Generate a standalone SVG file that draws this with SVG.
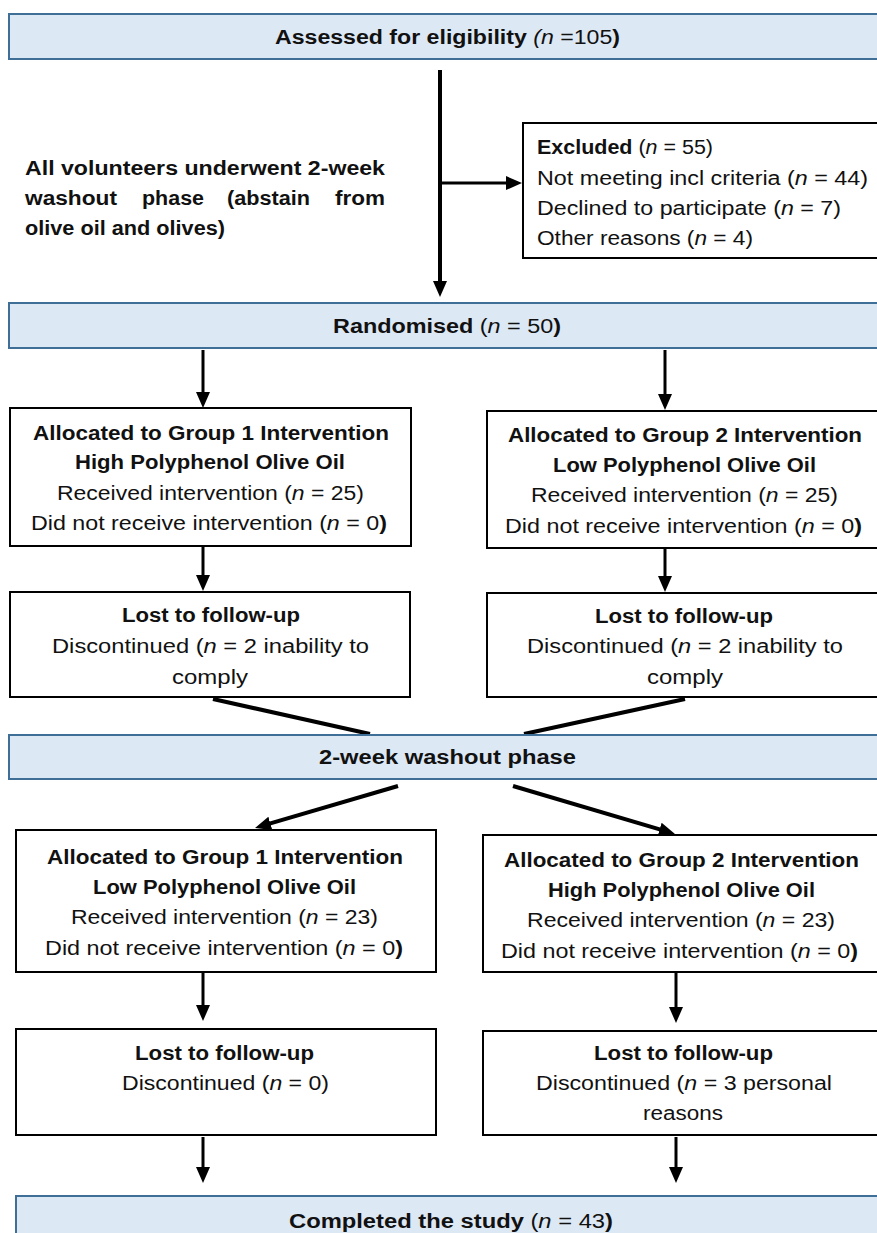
<svg xmlns="http://www.w3.org/2000/svg" width="877" height="1233" viewBox="0 0 877 1233">
<defs>
<marker id="ah" markerUnits="userSpaceOnUse" markerWidth="16" markerHeight="14" refX="8" refY="7" orient="auto">
<path d="M0,0 L16,7 L0,14 z" fill="#000"/>
</marker>
<style>
.bl{fill:#dde8f5;stroke:#3f6f96;stroke-width:2}
.wb{fill:#fff;stroke:#000;stroke-width:2}
text{font-family:"Liberation Sans Narrow","Liberation Sans",Arial,sans-serif;font-size:20px;fill:#111}
.b{font-weight:bold}
.c{text-anchor:middle}
.i{font-style:italic}
.ln{stroke:#000;stroke-width:3;fill:none}
.lt{stroke:#000;stroke-width:4;fill:none}
</style>
</defs>
<g id="connectors">
<line class="lt" x1="440" y1="70" x2="440" y2="289" marker-end="url(#ah)"/>
<line class="ln" x1="440" y1="183" x2="514" y2="183" marker-end="url(#ah)"/>
<line class="ln" x1="203" y1="350" x2="203" y2="400" marker-end="url(#ah)"/>
<line class="ln" x1="665" y1="350" x2="665" y2="402" marker-end="url(#ah)"/>
<line class="ln" x1="203" y1="546" x2="203" y2="583" marker-end="url(#ah)"/>
<line class="ln" x1="665" y1="548" x2="665" y2="584" marker-end="url(#ah)"/>
<line class="lt" x1="213" y1="699" x2="370" y2="734"/>
<line class="lt" x1="685" y1="699" x2="524" y2="734"/>
<line class="lt" x1="398" y1="786" x2="262.7" y2="825.7" marker-end="url(#ah)"/>
<line class="lt" x1="513" y1="786" x2="667.3" y2="831.7" marker-end="url(#ah)"/>
<line class="ln" x1="203" y1="972" x2="203" y2="1013" marker-end="url(#ah)"/>
<line class="ln" x1="676" y1="972" x2="676" y2="1015" marker-end="url(#ah)"/>
<line class="ln" x1="203" y1="1137" x2="203" y2="1175" marker-end="url(#ah)"/>
<line class="ln" x1="676" y1="1137" x2="676" y2="1175" marker-end="url(#ah)"/>
</g>
<g id="assessed">
<rect class="bl" x="9" y="14" width="880" height="45"/>
<text class="b" x="275" y="44" textLength="345" lengthAdjust="spacingAndGlyphs">Assessed for eligibility <tspan class="i" font-weight="normal">(n</tspan><tspan font-weight="normal"> =105</tspan>)</text>
</g>
<g id="washout-note">
<text class="b" x="25" y="175" textLength="360" lengthAdjust="spacingAndGlyphs">All volunteers underwent 2-week</text>
<text class="b" x="25" y="205" textLength="92" lengthAdjust="spacingAndGlyphs">washout</text>
<text class="b" x="142" y="205" textLength="62" lengthAdjust="spacingAndGlyphs">phase</text>
<text class="b" x="227" y="205" textLength="83" lengthAdjust="spacingAndGlyphs">(abstain</text>
<text class="b" x="335" y="205" textLength="50" lengthAdjust="spacingAndGlyphs">from</text>
<text class="b" x="25" y="235" textLength="200" lengthAdjust="spacingAndGlyphs">olive oil and olives)</text>
</g>
<g id="excluded">
<rect class="wb" x="523" y="123" width="370" height="135"/>
<text x="537" y="154" textLength="176" lengthAdjust="spacingAndGlyphs"><tspan class="b">Excluded</tspan> (<tspan class="i">n</tspan> = 55)</text>
<text x="537" y="185" textLength="331" lengthAdjust="spacingAndGlyphs">Not meeting incl criteria (<tspan class="i">n</tspan> = 44)</text>
<text x="537" y="215" textLength="304" lengthAdjust="spacingAndGlyphs">Declined to participate (<tspan class="i">n</tspan> = 7)</text>
<text x="537" y="245" textLength="216" lengthAdjust="spacingAndGlyphs">Other reasons (<tspan class="i">n</tspan> = 4)</text>
</g>
<g id="randomised">
<rect class="bl" x="9" y="303" width="880" height="45"/>
<text class="b" x="333" y="333" textLength="228" lengthAdjust="spacingAndGlyphs">Randomised  <tspan font-weight="normal">(</tspan><tspan class="i" font-weight="normal">n</tspan><tspan font-weight="normal"> = 50</tspan>)</text>
</g>
<g id="group1-p1">
<rect class="wb" x="10" y="408" width="401" height="138"/>
<text class="b" x="33" y="440" textLength="356" lengthAdjust="spacingAndGlyphs">Allocated to Group 1 Intervention</text>
<text class="b" x="75" y="469" textLength="270" lengthAdjust="spacingAndGlyphs">High Polyphenol Olive Oil</text>
<text x="57" y="500" textLength="307" lengthAdjust="spacingAndGlyphs">Received intervention (<tspan class="i">n</tspan> = 25)</text>
<text x="31" y="530" textLength="356" lengthAdjust="spacingAndGlyphs">Did not receive intervention (<tspan class="i">n</tspan> = 0<tspan class="b">)</tspan></text>
</g>
<g id="group2-p1">
<rect class="wb" x="487" y="411" width="400" height="137"/>
<text class="b" x="508" y="442" textLength="354" lengthAdjust="spacingAndGlyphs">Allocated to Group 2 Intervention</text>
<text class="b" x="553" y="472" textLength="263" lengthAdjust="spacingAndGlyphs">Low Polyphenol Olive Oil</text>
<text x="531" y="502" textLength="307" lengthAdjust="spacingAndGlyphs">Received intervention (<tspan class="i">n</tspan> = 25)</text>
<text x="505" y="533" textLength="357" lengthAdjust="spacingAndGlyphs">Did not receive intervention (<tspan class="i">n</tspan> = 0<tspan class="b">)</tspan></text>
</g>
<g id="lost1-p1">
<rect class="wb" x="10" y="592" width="400" height="105"/>
<text class="b" x="122" y="622" textLength="178" lengthAdjust="spacingAndGlyphs">Lost to follow-up</text>
<text x="52" y="653" textLength="317" lengthAdjust="spacingAndGlyphs">Discontinued (<tspan class="i">n</tspan> = 2 inability to</text>
<text x="172" y="684" textLength="76" lengthAdjust="spacingAndGlyphs">comply</text>
</g>
<g id="lost2-p1">
<rect class="wb" x="487" y="593" width="400" height="104"/>
<text class="b" x="595" y="623" textLength="178" lengthAdjust="spacingAndGlyphs">Lost to follow-up</text>
<text x="527" y="653" textLength="316" lengthAdjust="spacingAndGlyphs">Discontinued (<tspan class="i">n</tspan> = 2 inability to</text>
<text x="647" y="684" textLength="76" lengthAdjust="spacingAndGlyphs">comply</text>
</g>
<g id="washout">
<rect class="bl" x="9" y="735" width="880" height="44"/>
<text class="b" x="319" y="764" textLength="257" lengthAdjust="spacingAndGlyphs">2-week washout  phase</text>
</g>
<g id="group1-p2">
<rect class="wb" x="16" y="830" width="420" height="142"/>
<text class="b" x="47" y="864" textLength="356" lengthAdjust="spacingAndGlyphs">Allocated to Group 1 Intervention</text>
<text class="b" x="93" y="894" textLength="263" lengthAdjust="spacingAndGlyphs">Low Polyphenol Olive Oil</text>
<text x="71" y="924" textLength="307" lengthAdjust="spacingAndGlyphs">Received intervention (<tspan class="i">n</tspan> = 23)</text>
<text x="45" y="955" textLength="358" lengthAdjust="spacingAndGlyphs">Did not receive intervention (<tspan class="i">n</tspan> = 0<tspan class="b">)</tspan></text>
</g>
<g id="group2-p2">
<rect class="wb" x="483" y="835" width="400" height="137"/>
<text class="b" x="504" y="867" textLength="355" lengthAdjust="spacingAndGlyphs">Allocated to Group 2 Intervention</text>
<text class="b" x="548" y="897" textLength="267" lengthAdjust="spacingAndGlyphs">High Polyphenol Olive Oil</text>
<text x="527" y="927" textLength="308" lengthAdjust="spacingAndGlyphs">Received intervention (<tspan class="i">n</tspan> = 23)</text>
<text x="501" y="958" textLength="357" lengthAdjust="spacingAndGlyphs">Did not receive intervention (<tspan class="i">n</tspan> = 0<tspan class="b">)</tspan></text>
</g>
<g id="lost1-p2">
<rect class="wb" x="16" y="1029" width="420" height="106"/>
<text class="b" x="135" y="1060" textLength="179" lengthAdjust="spacingAndGlyphs">Lost to follow-up</text>
<text x="122" y="1090" textLength="207" lengthAdjust="spacingAndGlyphs">Discontinued (<tspan class="i">n</tspan> = 0)</text>
</g>
<g id="lost2-p2">
<rect class="wb" x="483" y="1031" width="400" height="104"/>
<text class="b" x="594" y="1060" textLength="179" lengthAdjust="spacingAndGlyphs">Lost to follow-up</text>
<text x="536" y="1090" textLength="296" lengthAdjust="spacingAndGlyphs">Discontinued (<tspan class="i">n</tspan> = 3 personal</text>
<text x="643" y="1120" textLength="80" lengthAdjust="spacingAndGlyphs">reasons</text>
</g>
<g id="completed">
<rect class="bl" x="16" y="1196" width="880" height="60"/>
<text class="b" x="289" y="1228" textLength="324" lengthAdjust="spacingAndGlyphs">Completed the study <tspan font-weight="normal">(</tspan><tspan class="i" font-weight="normal">n</tspan><tspan font-weight="normal"> = 43</tspan>)</text>
</g>
</svg>
